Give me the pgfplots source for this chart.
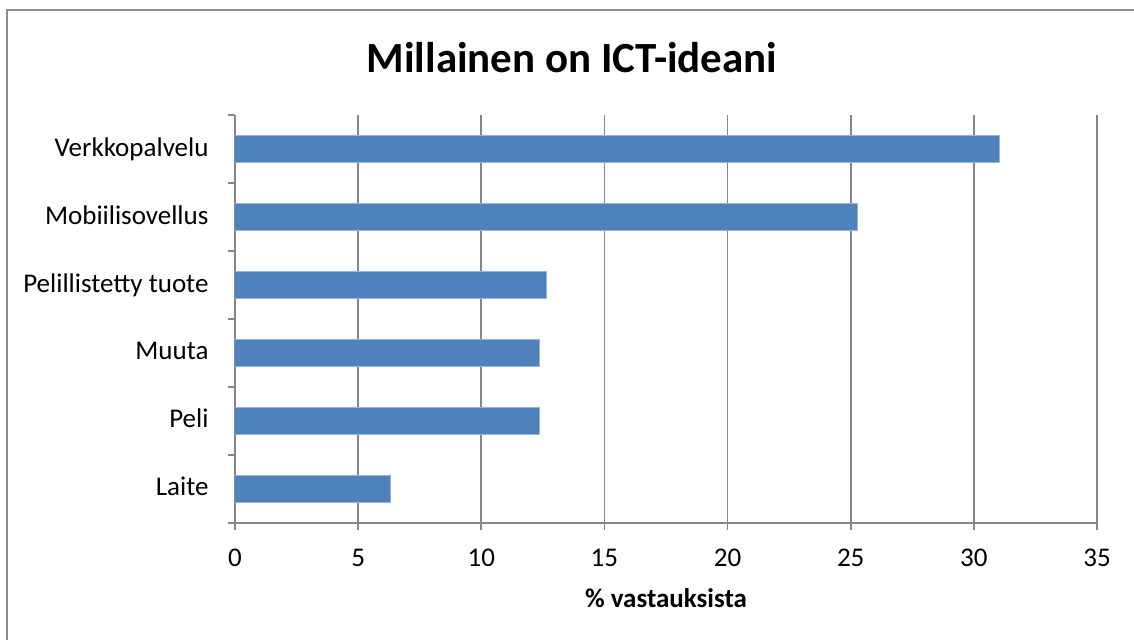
\documentclass[border=0pt]{standalone}
\usepackage{fontspec}
\setmainfont{Carlito}
\usepackage{pgfplots}
\pgfplotsset{compat=1.18}
\definecolor{barblue}{RGB}{79,129,189}
\definecolor{baredge}{RGB}{150,180,216}
\definecolor{gridgray}{RGB}{134,134,134}
\definecolor{framegray}{RGB}{140,140,140}

\begin{document}
\begin{tikzpicture}
\useasboundingbox (0,0) rectangle (453.6pt,256pt);
% chart frame, cut off at the right and bottom edges
\draw[framegray, line width=0.9pt] (2.8pt,-5pt) -- (2.8pt,252pt) -- (460pt,252pt);
\node[font=\fontsize{17.2}{20}\selectfont\bfseries] at (228.8pt,232.8pt) {Millainen on ICT-ideani};

\begin{axis}[
    at={(94pt,46.92pt)}, anchor=south west,
    width=344.8pt, height=163.1pt, scale only axis,
    xbar, bar width=10.7pt,
    xmin=0, xmax=35, ymin=-0.5, ymax=5.5,
    xtick={0,5,...,35},
    ytick={-0.5,0.5,...,5.5}, yticklabels={},
    extra y ticks={0,1,2,3,4,5},
    extra y tick labels={Laite,Peli,Muuta,Pelillistetty tuote,Mobiilisovellus,Verkkopalvelu},
    extra y tick style={major tick length=0pt},
    axis lines*=left,
    axis line style={-, gridgray, line width=0.7pt},
    xmajorgrids,
    grid style={gridgray, line width=0.7pt},
    tick align=outside, major tick length=2.8pt,
    tick style={gridgray, line width=0.7pt},
    /pgf/number format/assume math mode=true,
    tick label style={font=\fontsize{10.8}{13}\selectfont, text=black},
    xticklabel style={anchor=center, yshift=-11.3pt},
    yticklabel style={anchor=east, inner sep=0pt, xshift=-10.4pt, text height=1.6ex, text depth=0.4ex},
    xlabel={\% vastauksista},
    xlabel style={font=\fontsize{10.8}{13}\selectfont\bfseries, at={(axis description cs:0.5,0)}, anchor=center, yshift=-30.3pt},
]

\addplot[fill=barblue, draw=baredge, line width=0.4pt] coordinates {
    (6.32,0) (12.36,1) (12.36,2) (12.64,3) (25.29,4) (31.03,5)
};

\end{axis}
\end{tikzpicture}
\end{document}
